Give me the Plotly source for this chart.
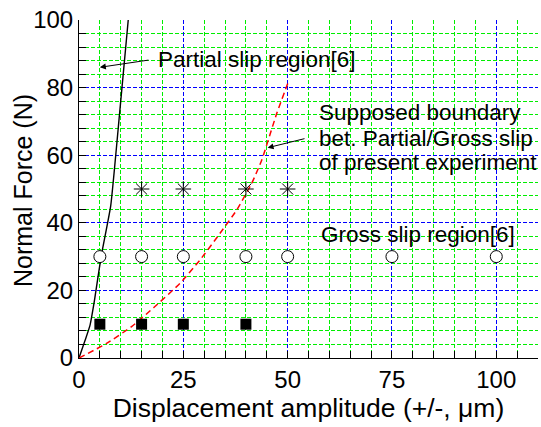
import plotly.graph_objects as go

# Boundary curves
partial_x = [0, 1.4, 2.6, 3.7, 5.3, 7.6, 9.7, 11.8]
partial_y = [0, 5.0, 9.5, 17.0, 30.0, 45.0, 72.0, 100.0]
present_x = [0, 6.6, 12.6, 18, 24.2, 29, 33.8, 37.8, 41.4, 43.8, 47.4, 50.2]
present_y = [0, 4.3, 9.3, 15, 22.1, 29, 36.9, 43.8, 51.7, 58.6, 72.4, 81.8]

# Experimental points
gross_x = [5, 15, 25, 40, 50, 75, 100]
gross_y = [30, 30, 30, 30, 30, 30, 30]
mixed_x = [15, 25, 40, 50]
mixed_y = [50, 50, 50, 50]
partial_pts_x = [5, 15, 25, 40]
partial_pts_y = [10, 10, 10, 10]

FONT = "Arial, Liberation Sans, sans-serif"

fig = go.Figure()
fig.add_trace(go.Scatter(x=partial_x, y=partial_y, mode="lines",
                         line=dict(color="black", width=1.4, shape="spline", smoothing=0.4),
                         showlegend=False))
fig.add_trace(go.Scatter(x=present_x, y=present_y, mode="lines",
                         line=dict(color="red", width=1.5, dash="6px,4px", shape="spline", smoothing=0.5),
                         showlegend=False))
fig.add_trace(go.Scatter(x=gross_x, y=gross_y, mode="markers",
                         marker=dict(symbol="circle", size=12, color="white",
                                     line=dict(color="black", width=1)), showlegend=False))
fig.add_trace(go.Scatter(x=mixed_x, y=mixed_y, mode="markers",
                         marker=dict(symbol="asterisk-open", size=13, color="black",
                                     line=dict(color="black", width=1)), showlegend=False))
fig.add_trace(go.Scatter(x=partial_pts_x, y=partial_pts_y, mode="markers",
                         marker=dict(symbol="square", size=11, color="black"), showlegend=False))

tfont = dict(family=FONT, size=22.5, color="black")
annots = [
    dict(x=18.4, y=88.2, text="Partial slip region[6]"),
    dict(x=57.0, y=72.6, text="Supposed boundary"),
    dict(x=57.0, y=65.0, text="bet. Partial/Gross slip"),
    dict(x=57.0, y=57.8, text="of present experiment"),
    dict(x=57.4, y=36.4, text="Gross slip region[6]"),
]
for a in annots:
    fig.add_annotation(x=a["x"], y=a["y"], text=a["text"], showarrow=False,
                       xanchor="left", yanchor="middle", font=tfont)

arrows = [
    dict(x=5.0, y=86.0, ax=17.0, ay=88.2),
    dict(x=45.2, y=62.2, ax=54.4, ay=65.0),
]
for a in arrows:
    fig.add_annotation(x=a["x"], y=a["y"], ax=a["ax"], ay=a["ay"], axref="x", ayref="y",
                       text="", showarrow=True, arrowhead=2, arrowsize=1.2, arrowwidth=1,
                       arrowcolor="black", standoff=0, startstandoff=0)

# y-axis title placed as a rotated annotation to match the reference position
fig.add_annotation(xref="paper", yref="paper", x=-0.122, y=0.494, text="Normal Force (N)",
                   textangle=-90, showarrow=False, xanchor="center", yanchor="middle",
                   font=dict(family=FONT, size=25, color="black"))

# hide the grid lines that sit on the open top and right frame edges
fig.add_shape(type="line", xref="paper", yref="paper", x0=0.003, x1=1, y0=1, y1=1,
              line=dict(color="white", width=2), layer="between")
fig.add_shape(type="line", xref="paper", yref="paper", x0=1, x1=1, y0=0.004, y1=1,
              line=dict(color="white", width=2), layer="between")

GREEN = "rgb(0,238,0)"
BLUE = "rgb(0,0,255)"
fig.update_layout(
    width=541, height=427,
    margin=dict(l=79, r=3, t=20, b=69),
    paper_bgcolor="white", plot_bgcolor="white",
    font=dict(family=FONT, size=24, color="black"),
    xaxis=dict(range=[0, 110], tickmode="linear", tick0=0, dtick=25,
               showline=True, linecolor="black", linewidth=1,
               ticks="inside", ticklen=7, tickcolor="black",
               showgrid=True, gridcolor=BLUE, gridwidth=1, griddash="4px,2px",
               zeroline=False,
               minor=dict(tickmode="linear", tick0=0, dtick=5, showgrid=True, gridcolor=GREEN,
                          gridwidth=1, griddash="4px,2px", ticks="inside", ticklen=7,
                          tickcolor="black"),
               title=dict(text="Displacement amplitude (+/-, μm)", font=dict(size=26.5), standoff=5),
               tickfont=dict(size=24)),
    yaxis=dict(range=[0, 100], tickmode="linear", tick0=0, dtick=20,
               showline=True, linecolor="black", linewidth=1,
               ticks="inside", ticklen=7, tickcolor="black",
               showgrid=True, gridcolor=BLUE, gridwidth=1, griddash="4px,2px",
               zeroline=False,
               minor=dict(tickmode="linear", tick0=0, dtick=4, showgrid=True, gridcolor=GREEN,
                          gridwidth=1, griddash="4px,2px", ticks="inside", ticklen=7,
                          tickcolor="black"),
               tickfont=dict(size=24)),
)

fig.write_html("out.html")
